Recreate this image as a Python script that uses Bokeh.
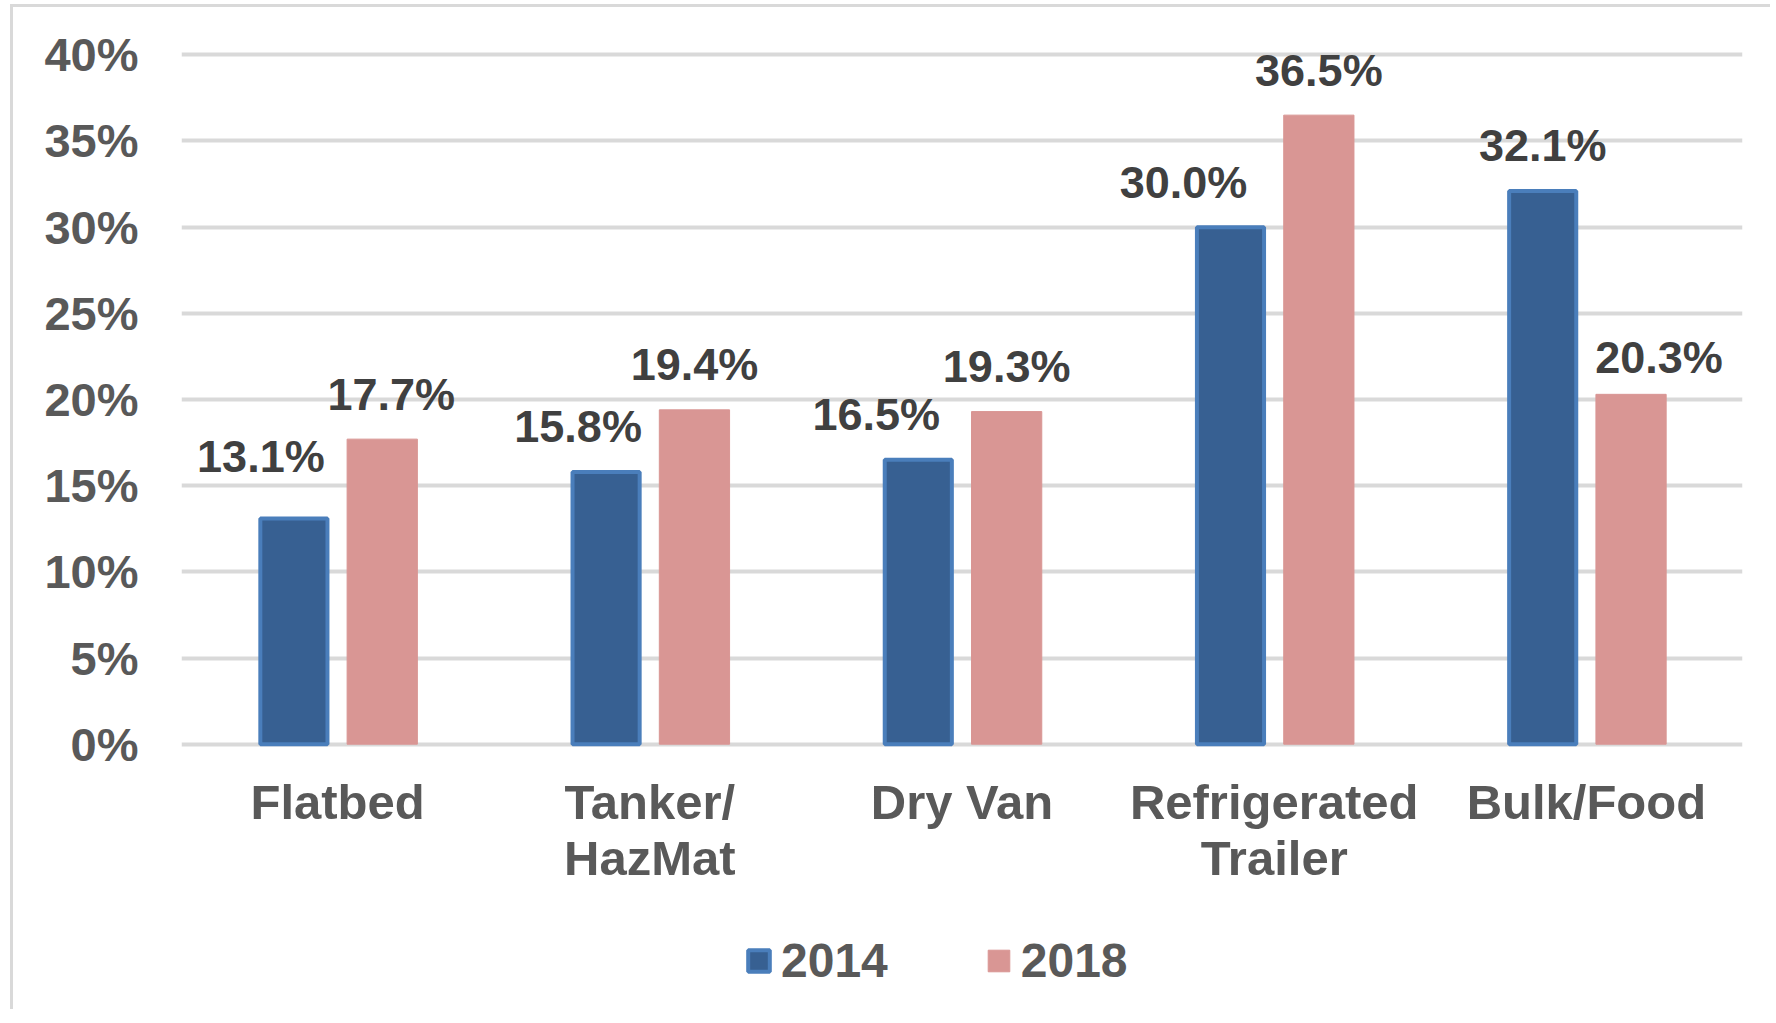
from bokeh.plotting import figure
from bokeh.layouts import column
from bokeh.models import (ColumnDataSource, FactorRange, FixedTicker, PrintfTickFormatter,
                          Legend, LegendItem, Range1d)
from bokeh.transform import dodge
from bokeh.core.properties import value
from bokeh.embed import file_html
from bokeh.resources import INLINE

# ---- data ----
categories = ["Flatbed", "Tanker/\nHazMat", "Dry Van", "Refrigerated\nTrailer", "Bulk/Food"]
values_2014 = [13.1, 15.8, 16.5, 30.0, 32.1]
values_2018 = [17.7, 19.4, 19.3, 36.5, 20.3]
series_names = ["2014", "2018"]
y_ticks = [0, 5, 10, 15, 20, 25, 30, 35, 40]

# ---- label placement (screen px, relative to bar centre / bar top) ----
dx_2014 = [-33, -28, -42, -47, 0]
dy_2014 = [62, 45, 45, 45, 45]
dx_2018 = [9, 0, 0, 0, 28]
dy_2018 = [45, 45, 45, 45, 37]

FONT = "Liberation Sans"
BLUE_FILL = "#376092"
BLUE_LINE = "#4a7ebb"
PINK = "#d99694"
BORDER = "3px solid #d9d9d9"

src = ColumnDataSource(dict(
    cat=categories,
    v2014=values_2014,
    v2018=values_2018,
    t2014=["%.1f%%" % v for v in values_2014],
    t2018=["%.1f%%" % v for v in values_2018],
    dx2014=dx_2014, dy2014=[-d for d in dy_2014],
    dx2018=dx_2018, dy2018=[-d for d in dy_2018],
))

W, H1, H2 = 1760, 880, 125
p = figure(width=W, height=H1, x_range=FactorRange(factors=categories),
           y_range=Range1d(-0.25, 40.25), output_backend="svg", toolbar_location=None,
           min_border_left=168, min_border_right=W - 1729, min_border_top=43,
           min_border_bottom=H1 - 745)
p.styles = {"border-left": BORDER, "border-top": BORDER,
            "margin-left": "10px", "margin-top": "4px"}
p.outline_line_color = None
p.background_fill_color = "white"
p.border_fill_color = "white"

p.xgrid.grid_line_color = None
p.ygrid.grid_line_color = "#d9d9d9"
p.ygrid.grid_line_width = 4
p.ygrid.ticker = FixedTicker(ticks=y_ticks)

p.yaxis.ticker = FixedTicker(ticks=y_ticks)
p.yaxis.formatter = PrintfTickFormatter(format="%d%%")
p.yaxis.axis_line_color = None
p.yaxis.major_tick_line_color = None
p.yaxis.minor_tick_line_color = None
p.yaxis.major_tick_out = 0
p.yaxis.major_label_standoff = 43
p.yaxis.major_label_text_font = FONT
p.yaxis.major_label_text_font_style = "bold"
p.yaxis.major_label_text_font_size = "47px"
p.yaxis.major_label_text_color = "#595959"

p.xaxis.axis_line_color = None
p.xaxis.major_tick_line_color = None
p.xaxis.minor_tick_line_color = None
p.xaxis.major_tick_out = 0
p.xaxis.major_label_standoff = 26
p.xaxis.major_label_text_font = FONT
p.xaxis.major_label_text_font_style = "bold"
p.xaxis.major_label_text_font_size = "49px"
p.xaxis.major_label_text_color = "#595959"
p.xaxis.major_label_text_line_height = 1.04

bar_2014 = dict(fill_color=BLUE_FILL, line_color=BLUE_LINE, line_width=4)
bar_2018 = dict(fill_color=PINK, line_color=PINK, line_width=1)

p.vbar(x=dodge("cat", -0.14, range=p.x_range), top="v2014", width=0.215, bottom=0,
       source=src, **bar_2014)
p.vbar(x=dodge("cat", 0.143, range=p.x_range), top="v2018", width=0.225, bottom=0,
       source=src, **bar_2018)

for col, off, dx, dy in (("2014", -0.14, "dx2014", "dy2014"), ("2018", 0.143, "dx2018", "dy2018")):
    p.text(x=dodge("cat", off, range=p.x_range), y="v" + col, text="t" + col,
           x_offset=dx, y_offset=dy, source=src,
           text_font=value(FONT), text_font_style="bold", text_font_size="45px",
           text_color="#404040", text_align="center", text_baseline="middle")

# ---- legend strip below the chart (hidden copies of the bar renderers feed the legend) ----
q = figure(width=W, height=H2, x_range=p.x_range, y_range=Range1d(0, 40),
           output_backend="svg", toolbar_location=None,
           min_border_left=0, min_border_right=0, min_border_top=0, min_border_bottom=0)
q.styles = {"border-left": BORDER, "margin-left": "10px"}
q.axis.visible = False
q.grid.grid_line_color = None
q.outline_line_color = None
q.background_fill_color = "white"
q.border_fill_color = "white"
lr1 = q.vbar(x=dodge("cat", -0.14, range=p.x_range), top="v2014", width=0.215, bottom=0,
             source=src, **bar_2014)
lr2 = q.vbar(x=dodge("cat", 0.143, range=p.x_range), top="v2018", width=0.225, bottom=0,
             source=src, **bar_2018)
lr1.visible = False
lr2.visible = False

legend = Legend(items=[LegendItem(label=series_names[0], renderers=[lr1]),
                       LegendItem(label=series_names[1], renderers=[lr2])],
                orientation="horizontal", location=(564, 21),
                label_text_font=FONT, label_text_font_style="bold",
                label_text_font_size="48px", label_text_color="#595959",
                glyph_width=27, glyph_height=27, spacing=97, label_standoff=9,
                border_line_color=None, background_fill_alpha=0,
                inactive_fill_alpha=0, padding=0, margin=0)
q.add_layout(legend, "center")

layout = column(p, q, spacing=0)
open("out.html", "w").write(file_html(layout, INLINE))
